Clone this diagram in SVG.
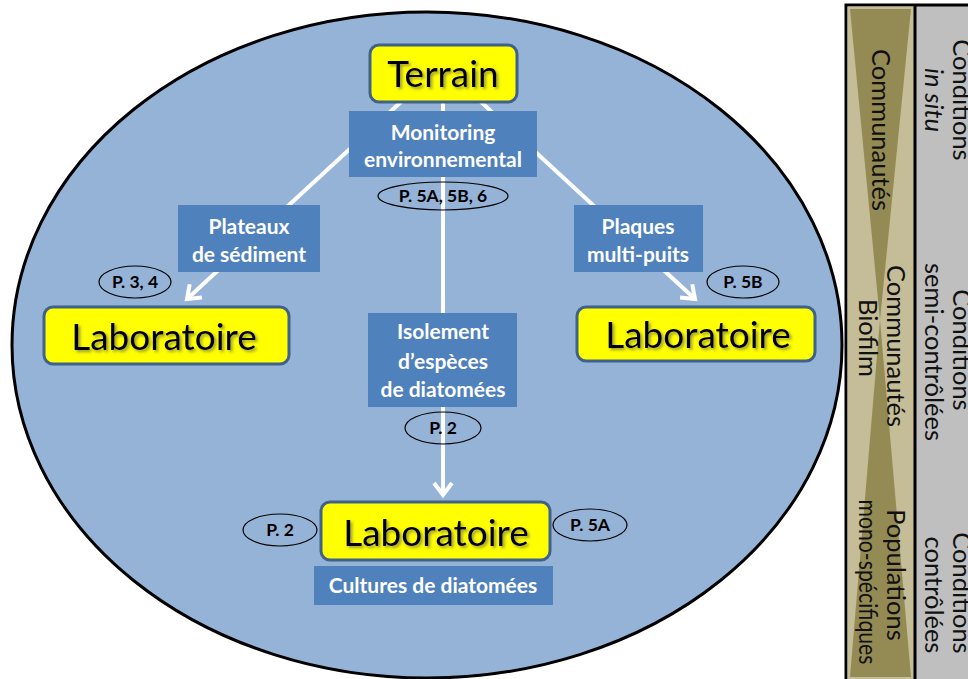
<svg xmlns="http://www.w3.org/2000/svg" width="968" height="679" viewBox="0 0 968 679">
<defs>
<style>
.big{font-family:Lato,"Liberation Sans",sans-serif;font-size:37px;fill:#000;text-anchor:middle;filter:url(#ts)}
.yb{fill:#ffff00;stroke:#3e6289;stroke-width:3}
.bb{fill:#4f81bd}
.bt{font-family:Lato,"Liberation Sans",sans-serif;font-weight:bold;font-size:21px;fill:#fff;text-anchor:middle}
.ov{fill:none;stroke:#000;stroke-width:1.2}
.ot{font-family:Lato,"Liberation Sans",sans-serif;font-weight:bold;font-size:17.5px;fill:#000;text-anchor:middle}
.con{stroke:#fff;stroke-width:4;fill:none}
.vt{font-family:Lato,"Liberation Sans",sans-serif;font-size:25.5px;fill:#111;text-anchor:middle}
</style>
<filter id="ts" x="-10%" y="-30%" width="120%" height="160%">
<feDropShadow dx="2" dy="2" stdDeviation="1.5" flood-color="#555" flood-opacity="0.6"/>
</filter>
<marker id="ah" markerUnits="userSpaceOnUse" markerWidth="30" markerHeight="30" viewBox="0 0 30 30" refX="22" refY="15" orient="auto">
<path d="M10,6 L22,15 L10,24" stroke="#fff" stroke-width="4" fill="none" stroke-linecap="butt"/>
</marker>
</defs>

<ellipse id="scope" cx="427" cy="345" rx="415" ry="333" fill="#95b3d7" stroke="#000" stroke-width="3"/>

<g id="connectors">
<line class="con" x1="402" y1="101" x2="187" y2="299" marker-end="url(#ah)"/>
<line class="con" x1="480" y1="101" x2="695" y2="299" marker-end="url(#ah)"/>
<line class="con" x1="443" y1="101" x2="443" y2="495" marker-end="url(#ah)"/>
</g>

<g id="terrain">
<rect class="yb" x="370" y="45" width="147" height="57" rx="9"/>
<text class="big" x="443" y="87">Terrain</text>
</g>
<g id="monitoring">
<rect class="bb" x="349" y="111" width="188" height="66"/>
<text class="bt" x="443" y="140">Monitoring</text>
<text class="bt" x="443" y="167">environnemental</text>
</g>
<g id="ref-monitoring">
<ellipse class="ov" cx="443" cy="196" rx="65" ry="14"/>
<text class="ot" x="443" y="202">P. 5A, 5B, 6</text>
</g>
<g id="plateaux">
<rect class="bb" x="178" y="205" width="142" height="67"/>
<text class="bt" x="249" y="234">Plateaux</text>
<text class="bt" x="249" y="262">de sédiment</text>
</g>
<g id="ref-plateaux">
<ellipse class="ov" cx="135" cy="282" rx="36" ry="16"/>
<text class="ot" x="135" y="288">P. 3, 4</text>
</g>
<g id="labo-left">
<rect class="yb" x="44" y="307" width="245" height="57" rx="9"/>
<text class="big" x="164" y="350">Laboratoire</text>
</g>
<g id="plaques">
<rect class="bb" x="574" y="205" width="129" height="67"/>
<text class="bt" x="638" y="234">Plaques</text>
<text class="bt" x="638" y="262">multi-puits</text>
</g>
<g id="ref-plaques">
<ellipse class="ov" cx="743" cy="282" rx="36" ry="16"/>
<text class="ot" x="743" y="288">P. 5B</text>
</g>
<g id="labo-right">
<rect class="yb" x="577" y="307" width="238" height="54" rx="9"/>
<text class="big" x="698" y="348">Laboratoire</text>
</g>
<g id="isolement">
<rect class="bb" x="368" y="313" width="149" height="94"/>
<text class="bt" x="443" y="339">Isolement</text>
<text class="bt" x="443" y="369">d’espèces</text>
<text class="bt" x="443" y="397">de diatomées</text>
</g>
<g id="ref-isolement">
<ellipse class="ov" cx="443" cy="428" rx="38" ry="16"/>
<text class="ot" x="443" y="434">P. 2</text>
</g>
<g id="labo-bottom">
<rect class="yb" x="321" y="502" width="229" height="58" rx="9"/>
<text class="big" x="436" y="546">Laboratoire</text>
</g>
<g id="ref-p2">
<ellipse class="ov" cx="280" cy="530" rx="37" ry="16"/>
<text class="ot" x="280" y="536">P. 2</text>
</g>
<g id="ref-p5a">
<ellipse class="ov" cx="590" cy="525" rx="37" ry="16"/>
<text class="ot" x="590" y="531">P. 5A</text>
</g>
<g id="cultures">
<rect class="bb" x="314" y="566" width="239" height="39"/>
<text class="bt" x="433" y="593">Cultures de diatomées</text>
</g>

<g id="side-panel">
<rect x="846" y="5" width="130" height="680" fill="#bfbfbf" stroke="#000" stroke-width="3"/>
<rect x="847.5" y="6.5" width="67" height="677" fill="#c4bd97"/>
<polygon points="850,9 911,9 880,320" fill="#948a54"/>
<polygon points="880,320 850,677 911,677" fill="#948a54"/>
<line x1="915" y1="5" x2="915" y2="679" stroke="#000" stroke-width="3"/>
<text class="vt" transform="translate(872,130) rotate(90)">Communautés</text>
<text class="vt" transform="translate(887,346) rotate(90)">Communautés</text>
<text class="vt" transform="translate(859,338) rotate(90)">Biofilm</text>
<text class="vt" transform="translate(887,575) rotate(90)">Populations</text>
<text class="vt" transform="translate(859,582) rotate(90)" textLength="165" lengthAdjust="spacingAndGlyphs">mono-spécifiques</text>
<text class="vt" transform="translate(953,100) rotate(90)">Conditions</text>
<text class="vt" transform="translate(925,100) rotate(90)" font-style="italic">in situ</text>
<text class="vt" transform="translate(953,350) rotate(90)">Conditions</text>
<text class="vt" transform="translate(925,352) rotate(90)">semi-contrôlées</text>
<text class="vt" transform="translate(953,593) rotate(90)">Conditions</text>
<text class="vt" transform="translate(925,595) rotate(90)">contrôlées</text>
</g>
</svg>
